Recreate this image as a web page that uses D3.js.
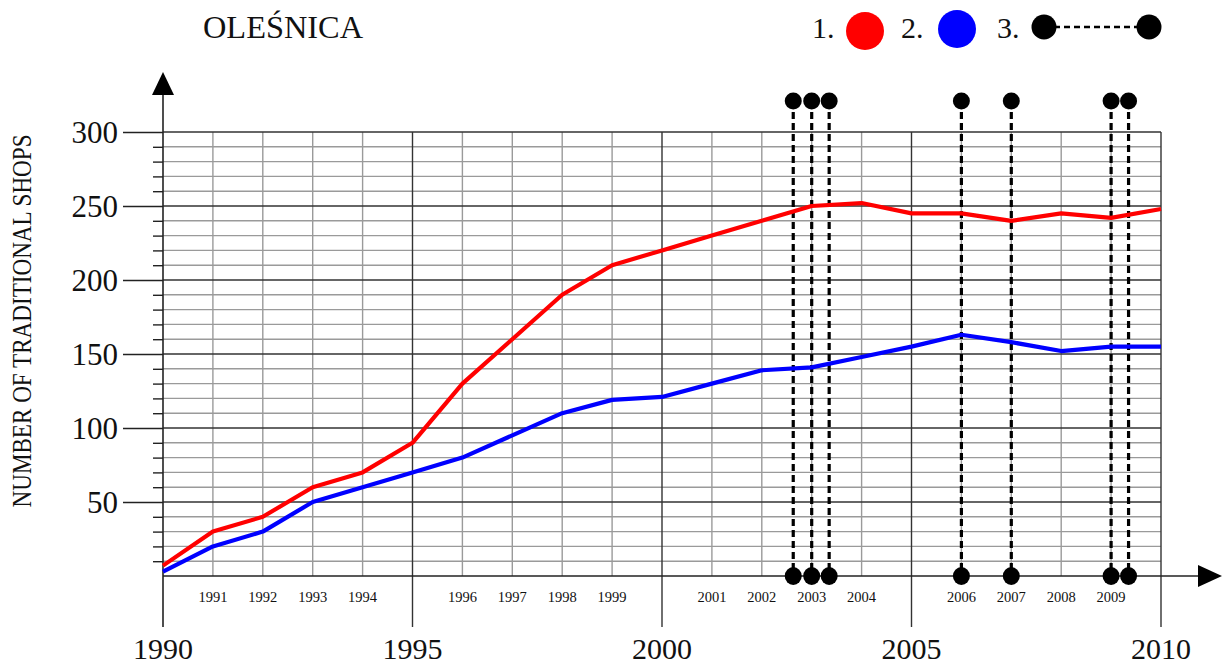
<!DOCTYPE html>
<html>
<head>
<meta charset="utf-8">
<script src="https://cdn.jsdelivr.net/npm/d3@7"></script>
<style>
  html, body { margin: 0; padding: 0; background: #fff; }
  svg { display: block; }
  text { font-family: "Liberation Serif", "Times New Roman", serif; fill: #111; }
</style>
</head>
<body>
<svg id="chart" width="1231" height="666"></svg>
<script>
// ---- data ----
const years = d3.range(1990, 2011);
const seriesTraditional1 = [7, 30, 40, 60, 70, 90, 130, 160, 190, 210, 220, 230, 240, 250, 252, 245, 245, 240, 245, 242, 248];
const seriesTraditional2 = [3, 20, 30, 50, 60, 70, 80, 95, 110, 119, 121, 130, 139, 141, 148, 155, 163, 158, 152, 155, 155];
const eventDates = [2002.63, 2003.0, 2003.35, 2006.0, 2007.0, 2009.0, 2009.35];
const majorYearTicks = [1990, 1995, 2000, 2005, 2010];
const minorYearLabels = years.filter(y => y % 5 !== 0);
const yMajorTicks = [50, 100, 150, 200, 250, 300];
const yMinorTicks = d3.range(10, 300, 10).filter(v => v % 50 !== 0);
const titleText = "OLEŚNICA";
const yAxisTitle = "NUMBER OF TRADITIONAL SHOPS";
const legendLabels = ["1.", "2.", "3."];

// ---- drawing ----
const svg = d3.select("#chart");
const x = d3.scaleLinear().domain([1990, 2010]).range([163, 1161]);
const y = d3.scaleLinear().domain([0, 300]).range([576, 132]);

const grid = svg.append("g");
grid.selectAll(".hmin").data(yMinorTicks).join("line")
  .attr("x1", x(1990)).attr("x2", x(2010))
  .attr("y1", d => y(d)).attr("y2", d => y(d))
  .attr("stroke", "#9a9a9a").attr("stroke-width", 1.4);
grid.selectAll(".vmin").data(years.filter(d => d % 5 !== 0)).join("line")
  .attr("x1", d => x(d)).attr("x2", d => x(d))
  .attr("y1", y(300)).attr("y2", y(0))
  .attr("stroke", "#9a9a9a").attr("stroke-width", 1.4);
grid.selectAll(".hmaj").data(yMajorTicks).join("line")
  .attr("x1", x(1990)).attr("x2", x(2010))
  .attr("y1", d => y(d)).attr("y2", d => y(d))
  .attr("stroke", "#333").attr("stroke-width", 1.4);
grid.selectAll(".vmaj").data(majorYearTicks.slice(1)).join("line")
  .attr("x1", d => x(d)).attr("x2", d => x(d))
  .attr("y1", y(300)).attr("y2", 627)
  .attr("stroke", "#333").attr("stroke-width", 1.4);

const yAxisMajor = d3.axisLeft(y).tickValues(yMajorTicks).tickSize(40).tickPadding(5);
const gy = svg.append("g").attr("transform", `translate(${x(1990)},0)`).call(yAxisMajor);
gy.select(".domain").remove();
gy.selectAll(".tick line").attr("stroke", "#222").attr("stroke-width", 1.4);
gy.selectAll(".tick text").style("font-family", '"Liberation Serif", serif')
  .style("font-size", "31px").attr("fill", "#111").attr("dy", "0.33em");
const yAxisMinor = d3.axisLeft(y).tickValues(yMinorTicks).tickSize(10).tickFormat("");
const gy2 = svg.append("g").attr("transform", `translate(${x(1990)},0)`).call(yAxisMinor);
gy2.select(".domain").remove();
gy2.selectAll(".tick line").attr("stroke", "#222").attr("stroke-width", 1.4);

svg.append("line").attr("x1", x(1990)).attr("x2", x(1990)).attr("y1", 93).attr("y2", 627)
  .attr("stroke", "#222").attr("stroke-width", 1.6);
svg.append("path").attr("d", `M${x(1990)},72 L${x(1990) - 11},95 L${x(1990) + 11},95 Z`).attr("fill", "#000");
svg.append("line").attr("x1", x(1990)).attr("x2", 1200).attr("y1", y(0)).attr("y2", y(0))
  .attr("stroke", "#222").attr("stroke-width", 1.6);
svg.append("path").attr("d", `M1222,${y(0)} L1198,${y(0) - 11} L1198,${y(0) + 11} Z`).attr("fill", "#000");

svg.append("g").selectAll("text").data(minorYearLabels).join("text")
  .attr("x", d => x(d)).attr("y", 602).attr("text-anchor", "middle")
  .style("font-size", "14.5px").text(d => d);
svg.append("g").selectAll("text").data(majorYearTicks).join("text")
  .attr("x", d => x(d)).attr("y", 659).attr("text-anchor", "middle")
  .style("font-size", "30px").text(d => d);

const ev = svg.append("g");
ev.selectAll("line").data(eventDates).join("line")
  .attr("x1", d => x(d)).attr("x2", d => x(d))
  .attr("y1", 101).attr("y2", y(0))
  .attr("stroke", "#000").attr("stroke-width", 3.2).attr("stroke-dasharray", "7,4");

const line = d3.line().x((d, i) => x(years[i])).y(d => y(d));
svg.append("path").datum(seriesTraditional1).attr("d", line)
  .attr("fill", "none").attr("stroke", "#ff0000").attr("stroke-width", 4.2).attr("stroke-linejoin", "round");
svg.append("path").datum(seriesTraditional2).attr("d", line)
  .attr("fill", "none").attr("stroke", "#0000ff").attr("stroke-width", 4.2).attr("stroke-linejoin", "round");

ev.selectAll(".top").data(eventDates).join("circle").attr("class", "top")
  .attr("cx", d => x(d)).attr("cy", 101).attr("r", 8.5).attr("fill", "#000");
ev.selectAll(".bot").data(eventDates).join("ellipse").attr("class", "bot")
  .attr("cx", d => x(d)).attr("cy", y(0)).attr("rx", 8.5).attr("ry", 9).attr("fill", "#000");

svg.append("text").attr("x", 203).attr("y", 38).style("font-size", "32px")
  .attr("textLength", 160).attr("lengthAdjust", "spacingAndGlyphs").text(titleText);

svg.append("text").attr("transform", "translate(31,321) rotate(-90)")
  .attr("text-anchor", "middle").style("font-size", "27px")
  .attr("textLength", 373).attr("lengthAdjust", "spacingAndGlyphs").text(yAxisTitle);

const lg = svg.append("g");
lg.append("text").attr("x", 812).attr("y", 38).style("font-size", "30px").text(legendLabels[0]);
lg.append("circle").attr("cx", 865).attr("cy", 31).attr("r", 19).attr("fill", "#ff0000");
lg.append("text").attr("x", 901).attr("y", 38).style("font-size", "30px").text(legendLabels[1]);
lg.append("circle").attr("cx", 957).attr("cy", 29).attr("r", 19).attr("fill", "#0000ff");
lg.append("text").attr("x", 997).attr("y", 38).style("font-size", "30px").text(legendLabels[2]);
lg.append("line").attr("x1", 1044).attr("x2", 1149).attr("y1", 27).attr("y2", 27)
  .attr("stroke", "#000").attr("stroke-width", 2.6).attr("stroke-dasharray", "6,4");
lg.append("circle").attr("cx", 1044).attr("cy", 27).attr("r", 12.5).attr("fill", "#000");
lg.append("circle").attr("cx", 1149).attr("cy", 27).attr("r", 12.5).attr("fill", "#000");
</script>
</body>
</html>
